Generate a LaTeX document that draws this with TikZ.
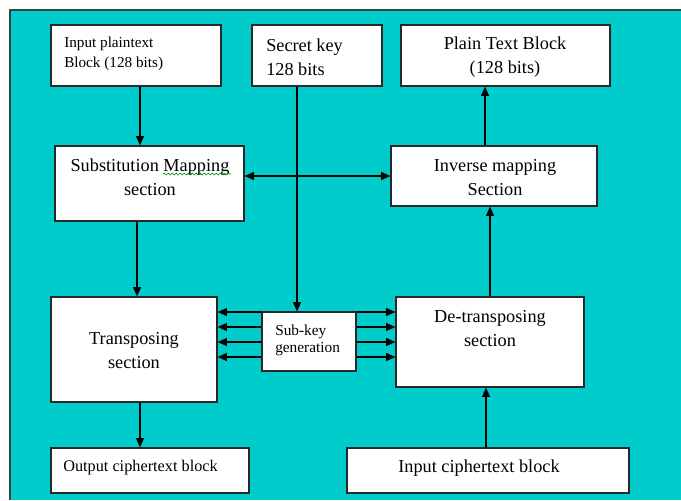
\documentclass[tikz,border=0pt]{standalone}
\usepackage{fontspec}
\setmainfont{Liberation Serif}
\usetikzlibrary{arrows.meta,fit,decorations.pathmorphing}
\definecolor{bgteal}{RGB}{0,204,204}
\definecolor{bgedge}{RGB}{50,70,72}
\definecolor{boxedge}{RGB}{40,40,40}
\begin{document}
\begin{tikzpicture}[x=0.75pt,y=-0.75pt,
  box/.style={draw=boxedge, line width=0.9pt, fill=white, inner sep=0pt, fit={#1}},
  txtL/.style={inner sep=0pt, align=center, font=\fontsize{13.7pt}{18pt}\selectfont},
  txtS/.style={inner sep=0pt, align=left, font=\fontsize{11.4pt}{15pt}\selectfont},
  arr/.style={-{Triangle[length=7pt,width=6pt]}, line width=0.8pt, draw=black},
  darr/.style={{Triangle[length=7pt,width=6pt]}-{Triangle[length=7pt,width=6pt]}, line width=0.8pt, draw=black}]
\useasboundingbox (0,0) rectangle (681,500);
% background panel
\fill[bgteal] (10,10) rectangle (681,500);
\draw[bgedge, line width=1.2pt] (10,500) -- (10,10) -- (681,10);

% boxes
\node[box={(51,25)(221,86)}] (ip) {};
\node[box={(252,25)(382,86)}] (key) {};
\node[box={(401,25)(610,86)}] (pt) {};
\node[box={(55,146)(244,221)}] (sub) {};
\node[box={(391,146)(597,206)}] (inv) {};
\node[box={(51,297)(217,402)}] (tr) {};
\node[box={(262,312)(356,371)}] (sk) {};
\node[box={(396,297)(584,387)}] (dt) {};
\node[box={(51,448)(249,493)}] (out) {};
\node[box={(347,448)(629,493)}] (inc) {};

% texts
\node[txtS, anchor=west] (ipt) at (64,53.5) {Input plaintext\\Block (128 bits)};
\node[txtL, align=left, anchor=west] (keyt) at (266,57) {Secret key\\128 bits};
\node[txtL] (ptt) at (505,57.5) {Plain Text Block\\(128 bits)};
\node[txtL] (subt) at (150,177) {Substitution Mapping\\section};
\node[txtL] (invt) at (495,177.5) {Inverse mapping\\Section};
\node[txtL] (trt) at (134,351) {Transposing\\section};
\node[txtL] (dtt) at (490,329) {De-transposing\\section};
\node[txtS, anchor=west, font=\fontsize{11.5pt}{13pt}\selectfont] (skt) at (275,340.5) {Sub-key\\generation};
\node[inner sep=0pt, anchor=west, font=\fontsize{12.2pt}{15pt}\selectfont] (outt) at (63,468) {Output ciphertext block};
\node[txtL] (inct) at (479,468) {Input ciphertext block};

% spell-check squiggle under "Mapping"
\draw[green!55!black, line width=0.5pt, decorate, decoration={snake, amplitude=0.7pt, segment length=3pt}] (163,174) -- (231,174);

% helper coordinates
\coordinate (xa) at (140,0);
\coordinate (xb) at (137,0);
\coordinate (xk) at (297,0);
\coordinate (xc) at (485,0);
\coordinate (xd) at (490,0);
\coordinate (xe) at (486,0);
\coordinate (ym) at (0,176);
\coordinate (y1) at (0,312);
\coordinate (y2) at (0,327);
\coordinate (y3) at (0,342);
\coordinate (y4) at (0,357);

% connectors
\draw[arr] (ip.south -| xa) -- (sub.north -| xa);
\draw[arr] (sub.south -| xb) -- (tr.north -| xb);
\draw[arr] (tr.south -| xa) -- (out.north -| xa);
\draw[arr] (key.south -| xk) -- (sk.north -| xk);
\draw[darr] (sub.east |- ym) -- (inv.west |- ym);
\draw[arr] (inv.north -| xc) -- (pt.south -| xc);
\draw[arr] (dt.north -| xd) -- (inv.south -| xd);
\draw[arr] (inc.north -| xe) -- (dt.south -| xe);
\foreach \yy in {y1,y2,y3,y4}{
  \draw[arr] (sk.west |- \yy) -- (tr.east |- \yy);
  \draw[arr] (sk.east |- \yy) -- (dt.west |- \yy);
}
\end{tikzpicture}
\end{document}
